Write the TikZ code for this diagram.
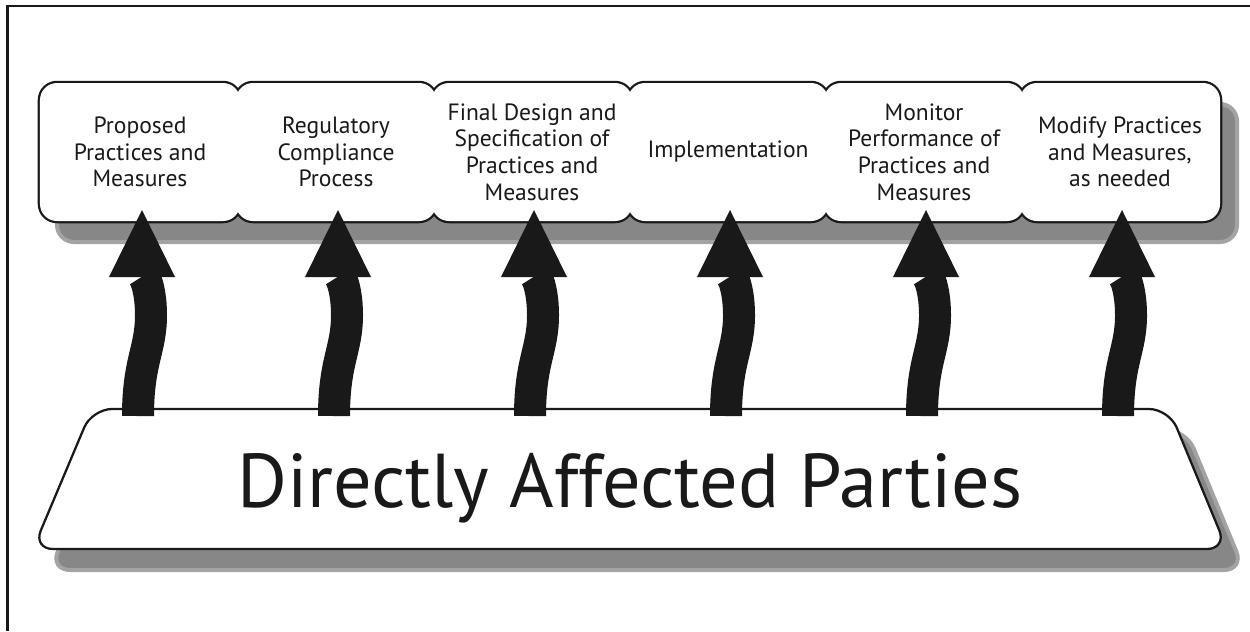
\documentclass[tikz,border=0pt]{standalone}
\usepackage{fontspec}
\setmainfont{PT Sans}
\usetikzlibrary{positioning,arrows.meta}
\pgfdeclarelayer{back}
\pgfdeclarelayer{rim}
\pgfsetlayers{back,rim,main}

\begin{document}
\begin{tikzpicture}[x=0.2mm,y=-0.2mm,
    stage/.style={rectangle,rounded corners=3.4mm,fill=white,minimum width=40mm,minimum height=27.6mm,
        inner sep=0pt,outer sep=0pt,align=center,font=\fontsize{13.4}{15.2}\selectfont,text=black!90},
    boxrim/.style={draw=black!90,line width=0.9mm,rounded corners=3.4mm},
    dropgray/.style={fill=black!47,draw=black!36,line width=0.8mm},
    flow/.style={draw=black!90,line width=6.4mm,-{Triangle[width=13.2mm,length=13.4mm,line width=0pt]}}]
    \useasboundingbox (0,0) rectangle (1250,631);
    \draw[line width=0.5mm,black!90] (7.5,631) -- (7.5,6) -- (1250,6);

    % stages along the top
    \node[stage] (p1) at (140,152) {Proposed\\Practices and\\Measures};
    \node[stage,right=-0.8mm of p1] (p2) {Regulatory\\Compliance\\Process};
    \node[stage,right=-0.8mm of p2] (p3) {Final Design and\\Specification of\\Practices and\\Measures};
    \node[stage,right=-0.8mm of p3] (p4) {Implementation};
    \node[stage,right=-0.8mm of p4] (p5) {Monitor\\Performance of\\Practices and\\Measures};
    \node[stage,right=-0.8mm of p5] (p6) {Modify Practices\\and Measures,\\as needed};

    \begin{pgfonlayer}{rim}
        \draw[boxrim] (p1.south west) rectangle (p1.north east);
        \draw[boxrim] (p2.south west) rectangle (p2.north east);
        \draw[boxrim] (p3.south west) rectangle (p3.north east);
        \draw[boxrim] (p4.south west) rectangle (p4.north east);
        \draw[boxrim] (p5.south west) rectangle (p5.north east);
        \draw[boxrim] (p6.south west) rectangle (p6.north east);
    \end{pgfonlayer}

    % base
    \begin{pgfonlayer}{back}
        \draw[dropgray,rounded corners=3.4mm] ([shift={(17,21)}]p1.south west) rectangle ([shift={(17,21)}]p6.north east);
        \draw[dropgray,rounded corners=4mm,shift={(17,21)}] (92,409) -- (1169,409) -- (1227,549) -- (33,549) -- cycle;
    \end{pgfonlayer}
    \draw[black!90,fill=white,line width=0.45mm,rounded corners=4mm] (92,409) -- (1169,409) -- (1227,549) -- (33,549) -- cycle;
    \node[font=\fontsize{43.4}{50}\selectfont,text=black!90,anchor=base] (dap) at (630,507) {Directly Affected Parties};
    \coordinate (btop) at (630,416);

    \draw[flow] ([xshift=-0.4mm]p1.south |- btop) .. controls +(0,-55) and +(0,35) .. ++(13,-101)
        .. controls +(0,-30) and +(0,60) .. ([xshift=0.4mm,yshift=2.2mm]p1.south);
    \draw[flow] ([xshift=-0.4mm]p2.south |- btop) .. controls +(0,-55) and +(0,35) .. ++(13,-101)
        .. controls +(0,-30) and +(0,60) .. ([xshift=0.4mm,yshift=2.2mm]p2.south);
    \draw[flow] ([xshift=-0.4mm]p3.south |- btop) .. controls +(0,-55) and +(0,35) .. ++(13,-101)
        .. controls +(0,-30) and +(0,60) .. ([xshift=0.4mm,yshift=2.2mm]p3.south);
    \draw[flow] ([xshift=-0.4mm]p4.south |- btop) .. controls +(0,-55) and +(0,35) .. ++(13,-101)
        .. controls +(0,-30) and +(0,60) .. ([xshift=0.4mm,yshift=2.2mm]p4.south);
    \draw[flow] ([xshift=-0.4mm]p5.south |- btop) .. controls +(0,-55) and +(0,35) .. ++(13,-101)
        .. controls +(0,-30) and +(0,60) .. ([xshift=0.4mm,yshift=2.2mm]p5.south);
    \draw[flow] ([xshift=-0.4mm]p6.south |- btop) .. controls +(0,-55) and +(0,35) .. ++(13,-101)
        .. controls +(0,-30) and +(0,60) .. ([xshift=0.4mm,yshift=2.2mm]p6.south);
\end{tikzpicture}
\end{document}
